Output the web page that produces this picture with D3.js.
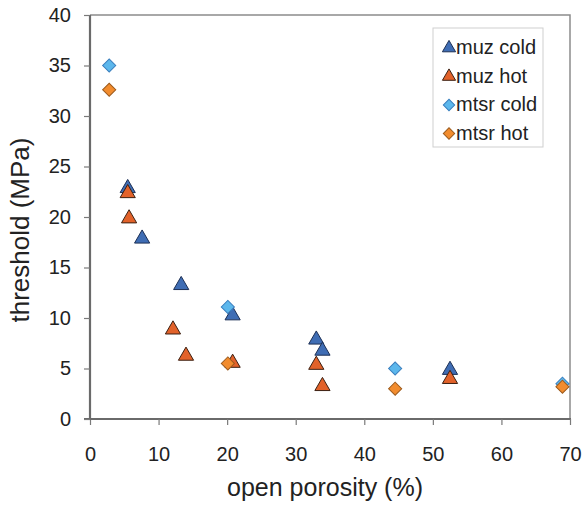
<!DOCTYPE html>
<html>
<head>
<meta charset="utf-8">
<script src="https://cdn.jsdelivr.net/npm/d3@7"></script>
<style>
  body{margin:0;background:#fff;}
  svg{display:block;font-family:"Liberation Sans",Arial,sans-serif;}
</style>
</head>
<body>
<div id="chart"></div>
<script>
// open porosity (%) vs threshold (MPa)
const muzCold=[[5.5,23],[7.6,18],[13.3,13.4],[20.8,10.4],[33,8],[33.9,6.9],[52.5,5]];
const muzHot=[[5.5,22.5],[5.7,20],[12.1,9],[14,6.4],[20.8,5.7],[33,5.5],[33.9,3.4],[52.5,4.1]];
const mtsrCold=[[2.8,35],[20.1,11.1],[44.5,5],[68.9,3.5]];
const mtsrHot=[[2.8,32.6],[20.1,5.5],[44.5,3],[68.9,3.2]];
const xTicks=[0,10,20,30,40,50,60,70];
const yTicks=[0,5,10,15,20,25,30,35,40];

const series=[
  {name:"muz cold",data:muzCold,shape:"tri",fill:"#3f6db4",stroke:"#1c2f55"},
  {name:"muz hot",data:muzHot,shape:"tri",fill:"#e2622a",stroke:"#3b2012"},
  {name:"mtsr cold",data:mtsrCold,shape:"dia",fill:"#5cb7ec",stroke:"#3b7fbe"},
  {name:"mtsr hot",data:mtsrHot,shape:"dia",fill:"#f28c2e",stroke:"#9c5a1c"}
];

(function(){
const W=583,H=505;
const pL=90,pR=570,pT=15,pB=419;
const x=d3.scaleLinear().domain([0,70]).range([pL,pR]);
const y=d3.scaleLinear().domain([0,40]).range([pB,pT]);

const svg=d3.select("#chart").append("svg").attr("width",W).attr("height",H);

// frame (top + right lighter)
svg.append("path")
  .attr("d",`M${pL},${pT}H${pR}V${pB}`)
  .attr("fill","none").attr("stroke","#8c8c8c").attr("stroke-width",1.5);

const gx=svg.append("g").attr("transform",`translate(0,${pB})`)
  .call(d3.axisBottom(x).tickValues(xTicks).tickSize(6).tickPadding(22).tickSizeOuter(0));
const gy=svg.append("g").attr("transform",`translate(${pL},0)`)
  .call(d3.axisLeft(y).tickValues(yTicks).tickSize(6).tickPadding(13).tickSizeOuter(0));
[gx,gy].forEach(g=>{
  g.select(".domain").attr("stroke","#6a6a6a").attr("stroke-width",2.2);
  g.selectAll(".tick line").attr("stroke","#7a7a7a").attr("stroke-width",1.2);
  g.selectAll("text").attr("font-size",20).attr("fill","#222")
    .attr("font-family","'Liberation Sans',Arial,sans-serif");
});
gy.select(".domain").attr("d",`M0,${pT}V${pB+1}`);
gx.select(".domain").attr("d",`M${pL-6},0H${pR+1}`);

svg.append("text")
  .attr("x",(pL+pR)/2-5).attr("y",496)
  .attr("text-anchor","middle").attr("font-size",25).attr("fill","#222")
  .text("open porosity (%)");
svg.append("text")
  .attr("transform","translate(29,230) rotate(-90)")
  .attr("text-anchor","middle").attr("font-size",26).attr("fill","#222")
  .text("threshold (MPa)");

const triSym=s=>d3.symbol().type(d3.symbolTriangle).size(s)();
const diaSym=s=>d3.symbol().type(d3.symbolSquare).size(s)();
const shapePath=(shape,k)=>shape==="tri"?triSym(100*k):diaSym(86*k);

series.forEach(s=>{
  svg.append("g").selectAll("path").data(s.data).join("path")
    .attr("d",shapePath(s.shape,1))
    .attr("transform",d=>`translate(${x(d[0])},${y(d[1])+(s.shape==="tri"?1.5:0)})`+(s.shape==="dia"?" rotate(45)":""))
    .attr("fill",s.fill).attr("stroke",s.stroke).attr("stroke-width",1);
});

// legend
const lg=svg.append("g").attr("transform","translate(433,28)");
lg.append("rect").attr("width",110).attr("height",119)
  .attr("fill","#fff").attr("stroke","#cfcfcf").attr("stroke-width",1);
series.forEach((s,i)=>{
  const cy=19+i*28.5;
  lg.append("path").attr("d",shapePath(s.shape,0.75))
    .attr("transform",`translate(16,${cy+1})`+(s.shape==="dia"?" rotate(45)":""))
    .attr("fill",s.fill).attr("stroke",s.stroke).attr("stroke-width",1);
  lg.append("text").attr("x",23).attr("y",cy+7)
    .attr("font-size",20).attr("fill","#222").text(s.name);
});
})();
</script>
</body>
</html>
